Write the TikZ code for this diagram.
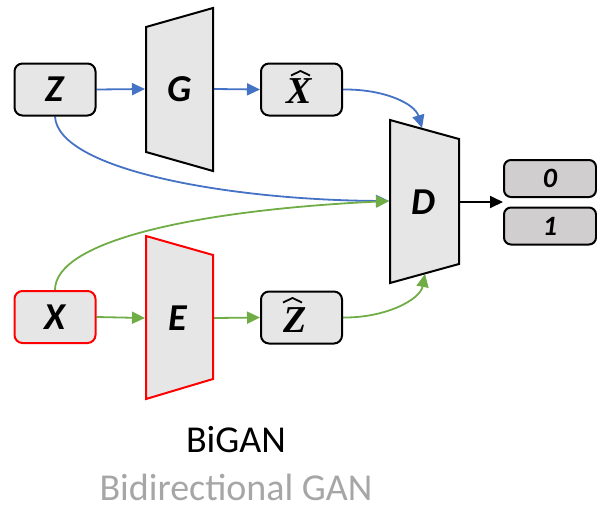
\documentclass[tikz,border=0pt]{standalone}
\usepackage{fontspec}
\setmainfont{Carlito}
\newfontfamily\hatfont{Liberation Serif}
\usetikzlibrary{arrows.meta}

\definecolor{boxgray}{HTML}{E6E6E6}
\definecolor{outgray}{HTML}{D0CECE}
\definecolor{arrowblue}{HTML}{4472C4}
\definecolor{arrowgreen}{HTML}{70AD47}
\definecolor{subgray}{HTML}{A6A6A6}
\definecolor{encred}{HTML}{FF0000}

\pgfdeclarelayer{wires}
\pgfsetlayers{wires,main}

\begin{document}
\begin{tikzpicture}[x=1pt,y=-1pt,
  varbox/.style={draw=black, line width=2pt, rounded corners=8pt, fill=boxgray,
    minimum width=81pt, minimum height=52pt, inner sep=0pt,
    font=\fontsize{38}{40}\selectfont\bfseries\itshape},
  outbox/.style={draw=black, line width=2pt, rounded corners=7pt, fill=outgray,
    minimum width=92pt, minimum height=37pt, inner sep=0pt,
    font=\fontsize{28}{30}\selectfont\bfseries\itshape},
  net/.style={draw=black, line width=2pt, fill=boxgray, line join=miter},
  netlabel/.style={inner sep=0pt, font=\fontsize{38}{40}\selectfont\bfseries\itshape},
  hatletter/.style={inner sep=0pt, font=\fontsize{38}{40}\selectfont\hatfont\bfseries\itshape},
  hat/.style={draw=black, line width=1.8pt, line join=miter},
  arrowtip/.style={-{Triangle[length=13pt,width=12pt]}},
  bluearrow/.style={arrowtip, draw=arrowblue, line width=1.8pt},
  greenarrow/.style={arrowtip, draw=arrowgreen, line width=1.8pt},
  blackarrow/.style={arrowtip, draw=black, line width=1.8pt}
]
\useasboundingbox (0,0) rectangle (597,507);

% generator, encoder and discriminator blocks
\path[net] (146,27) -- (213,8) -- (213,171) -- (146,152) -- cycle;
\path[net, draw=encred] (146,236) -- (213,255) -- (213,379) -- (146,399) -- cycle;
\path[net] (390,120) -- (459,139) -- (459,264) -- (390,283) -- cycle;
\node[netlabel] (G) at (180,89) {G};
\node[netlabel] (E) at (178,318) {E};
\node[netlabel] (D) at (423,202) {D};

% ports on the block edges
\coordinate (Gin) at (145,89);
\coordinate (Gout) at (214,89);
\coordinate (Ein) at (145,318);
\coordinate (Eout) at (214,318);
\coordinate (Din) at (389,201);
\coordinate (Dtop) at (422,128);
\coordinate (Dbot) at (425,274);
\coordinate (Dout) at (460,202);

% variables
\node[varbox] (Z) at (55,89.5) {Z};
\node[varbox] (Xh) at (301.5,89.5) {};
\node[varbox, draw=encred] (X) at (55,317) {X};
\node[varbox] (Zh) at (301.5,317.5) {};

% estimated variables: serif letter with a wide hat
\node[hatletter] (XhL) at (299,91) {X};
\draw[hat] (291,75.5) -- (300.5,71) -- (310,75.5);
\node[hatletter] (ZhL) at (295,320) {Z};
\draw[hat] (283,302.5) -- (292.5,298) -- (302,302.5);

% discriminator outputs
\node[outbox] (o0) at (550,178.5) {0};
\node[outbox] (o1) at (550,226) {1};

\begin{pgfonlayer}{wires}
% generator path
\draw[bluearrow] (Z.east) -- (Gin);
\draw[bluearrow] (Gout) -- (Xh.west);
\draw[bluearrow] (Xh.east) .. controls (385,89) and (415,104) .. (Dtop);
\draw[bluearrow] (Z.south) .. controls (58,170) and (230,200) .. (Din);

% encoder path
\draw[greenarrow] (X.east) -- (Ein);
\draw[greenarrow] (Eout) -- (Zh.west);
\draw[greenarrow] (Zh.east) .. controls (385,318) and (420,300) .. (Dbot);
\draw[greenarrow] (X.north) .. controls (55,240) and (200,210) .. (Din);

% discriminator decision
\draw[blackarrow] (Dout) -- (o0.south west |- Dout);
\end{pgfonlayer}

% caption
\node[anchor=base, inner sep=0pt, font=\fontsize{38}{40}\selectfont] (title) at (236,452) {BiGAN};
\node[anchor=base, inner sep=0pt, text=subgray, font=\fontsize{38}{40}\selectfont] (subtitle) at (236,500) {Bidirectional GAN};
\end{tikzpicture}
\end{document}
